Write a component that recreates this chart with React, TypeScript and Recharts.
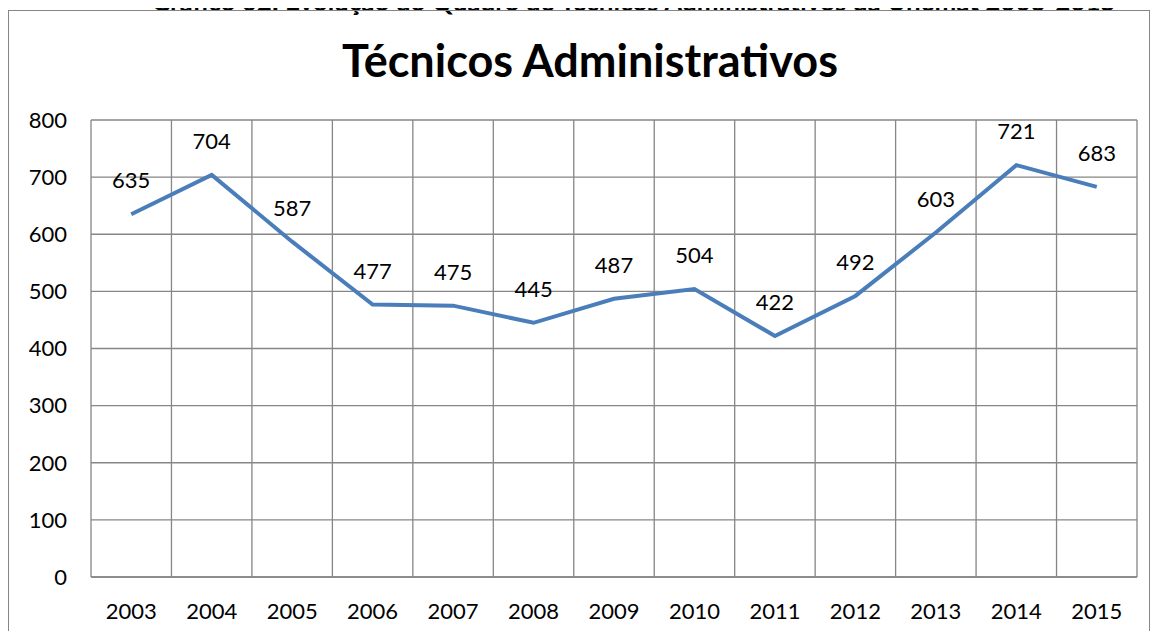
import React from 'react';
import { LineChart, Line, XAxis, YAxis, CartesianGrid, LabelList } from 'recharts';

const years = ['2003', '2004', '2005', '2006', '2007', '2008', '2009', '2010', '2011', '2012', '2013', '2014', '2015'];
const staff = [635, 704, 587, 477, 475, 445, 487, 504, 422, 492, 603, 721, 683];
const yTicks = [0, 100, 200, 300, 400, 500, 600, 700, 800];

const data = years.map((year, i) => ({ year, value: staff[i] }));

const FONT = 'Lato, "Open Sans", sans-serif';
const GRID = '#868686';

export default function App() {
  return (
    <div style={{ position: 'relative', width: 1162, height: 639, margin: -8, overflow: 'hidden', background: '#fff', fontFamily: FONT }}>
      <div
        style={{
          position: 'absolute', left: 0, width: 1162, top: -12, paddingLeft: 105, boxSizing: 'border-box',
          textAlign: 'center', fontWeight: 700, fontSize: 26, lineHeight: '26px', color: '#000', whiteSpace: 'nowrap',
        }}
      >
        Gráfico 02: Evolução do Quadro de Técnicos Administrativos da Unemat 2003-2015
      </div>
      <div
        style={{
          position: 'absolute', left: 8, top: 10, width: 1140, height: 660,
          border: `1px solid ${GRID}`,
        }}
      />
      <div
        style={{
          position: 'absolute', left: 0, top: 33, width: 1162, textAlign: 'center',
          fontWeight: 700, fontSize: 45, lineHeight: '54px', color: '#000', paddingLeft: 18, boxSizing: 'border-box',
        }}
      >
        Técnicos Administrativos
      </div>
      <div style={{ position: 'absolute', left: 0, top: 0 }}>
        <LineChart width={1162} height={639} data={data} margin={{ top: 120, right: 25, bottom: 32, left: 0 }}>
          <CartesianGrid
            stroke={GRID}
            strokeWidth={1.3}
            verticalCoordinatesGenerator={({ offset }: any) =>
              Array.from({ length: years.length + 1 }, (_, i) => offset.left + (i * offset.width) / years.length)
            }
          />
          <XAxis
            dataKey="year"
            scale="band"
            height={30}
            axisLine={{ stroke: GRID, strokeWidth: 1.3 }}
            tickLine={false}
            tickMargin={20}
            tick={{ fill: '#000', fontSize: 22, fontFamily: FONT }}
          />
          <YAxis
            width={91}
            domain={[0, 800]}
            ticks={yTicks}
            axisLine={false}
            tickLine={false}
            tickMargin={18}
            tick={{ fill: '#000', fontSize: 22, fontFamily: FONT }}
          />
          <Line
            dataKey="value"
            stroke="#4a7ebb"
            strokeWidth={4}
            dot={false}
            isAnimationActive={false}
          >
            <LabelList dataKey="value" position="top" offset={26} fill="#000" fontSize={22} fontFamily={FONT} />
          </Line>
        </LineChart>
      </div>
    </div>
  );
}
